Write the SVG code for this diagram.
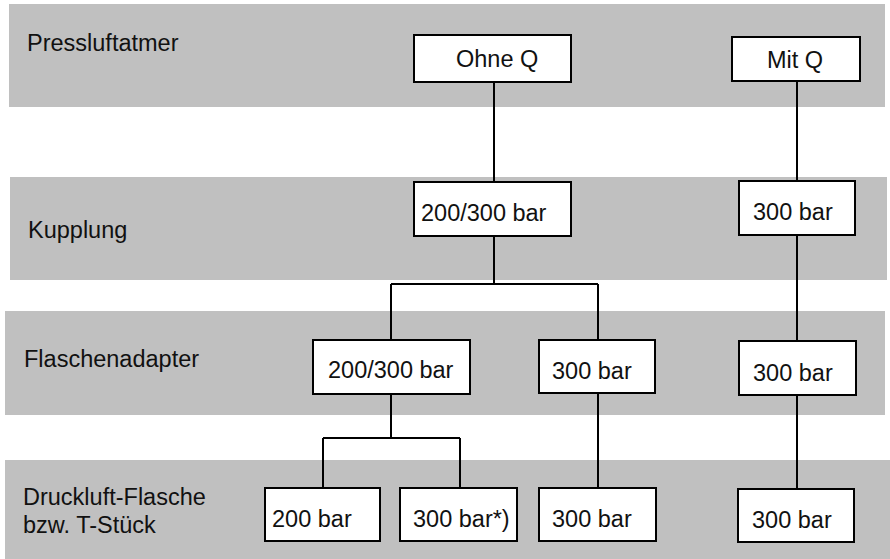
<svg xmlns="http://www.w3.org/2000/svg" width="890" height="559" viewBox="0 0 890 559">
  <style>
    .band { fill: #c0c0c0; }
    .box { fill: #ffffff; stroke: #000000; stroke-width: 2; }
    .lbl { font-family: "Liberation Sans", Arial, sans-serif; font-size: 23.5px; fill: #111111; }
    .wire { fill: none; stroke: #000000; stroke-width: 2; }
  </style>
  <rect width="890" height="559" fill="#ffffff"/>

  <!-- horizontal category bands -->
  <g id="bands">
    <rect class="band" x="9" y="4" width="876" height="103"/>
    <rect class="band" x="10" y="177" width="877" height="103"/>
    <rect class="band" x="5" y="311" width="880" height="104"/>
    <rect class="band" x="5" y="460" width="885" height="99"/>
  </g>

  <!-- row titles -->
  <g id="row-titles">
    <text class="lbl" x="27" y="51">Pressluftatmer</text>
    <text class="lbl" x="28" y="238">Kupplung</text>
    <text class="lbl" x="24" y="367">Flaschenadapter</text>
    <text class="lbl" x="23" y="505">Druckluft-Flasche</text>
    <text class="lbl" x="23" y="533">bzw. T-Stück</text>
  </g>

  <!-- connectors -->
  <g id="connectors">
    <path class="wire" d="M494 82 V182"/>
    <path class="wire" d="M494 236 V284 M391 284 H598 M391 284 V340 M598 284 V340"/>
    <path class="wire" d="M391 394 V438 M323 438 H460 M323 438 V488 M460 438 V488"/>
    <path class="wire" d="M598 393 V488"/>
    <path class="wire" d="M797 81 V181 M797 235 V341 M797 395 V489"/>
  </g>

  <!-- nodes -->
  <g id="ohne-q">
    <rect class="box" x="414" y="35" width="157" height="47"/>
    <text class="lbl" x="456" y="67">Ohne Q</text>
  </g>
  <g id="mit-q">
    <rect class="box" x="732" y="37" width="128" height="44"/>
    <text class="lbl" x="767" y="68">Mit Q</text>
  </g>
  <g id="kupplung-200-300">
    <rect class="box" x="414" y="182" width="157" height="54"/>
    <text class="lbl" x="421" y="221">200/300 bar</text>
  </g>
  <g id="kupplung-300">
    <rect class="box" x="739" y="181" width="116" height="54"/>
    <text class="lbl" x="753" y="220">300 bar</text>
  </g>
  <g id="adapter-200-300">
    <rect class="box" x="313" y="340" width="157" height="54"/>
    <text class="lbl" x="328" y="378">200/300 bar</text>
  </g>
  <g id="adapter-300-a">
    <rect class="box" x="539" y="340" width="116" height="53"/>
    <text class="lbl" x="552" y="379">300 bar</text>
  </g>
  <g id="adapter-300-b">
    <rect class="box" x="739" y="341" width="117" height="54"/>
    <text class="lbl" x="753" y="381">300 bar</text>
  </g>
  <g id="flasche-200">
    <rect class="box" x="265" y="488" width="115" height="53"/>
    <text class="lbl" x="272" y="527">200 bar</text>
  </g>
  <g id="flasche-300-star">
    <rect class="box" x="400" y="488" width="117" height="53"/>
    <text class="lbl" x="413" y="527">300 bar*)</text>
  </g>
  <g id="flasche-300-a">
    <rect class="box" x="539" y="488" width="117" height="53"/>
    <text class="lbl" x="552" y="527">300 bar</text>
  </g>
  <g id="flasche-300-b">
    <rect class="box" x="738" y="489" width="116" height="53"/>
    <text class="lbl" x="752" y="528">300 bar</text>
  </g>
</svg>
